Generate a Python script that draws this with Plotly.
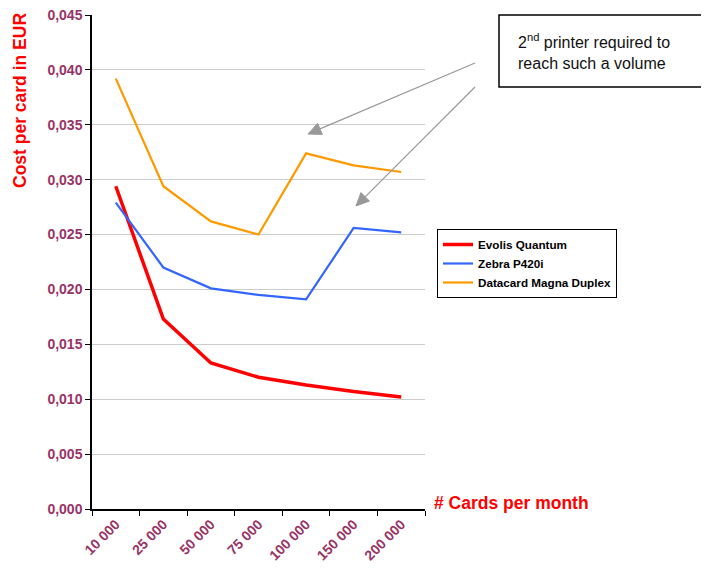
import math
import plotly.graph_objects as go

categories = ["10 000", "25 000", "50 000", "75 000", "100 000", "150 000", "200 000"]
evolis = [0.0294, 0.0173, 0.0133, 0.0120, 0.0113, 0.0107, 0.0102]
zebra = [0.0279, 0.0220, 0.0201, 0.0195, 0.0191, 0.0256, 0.0252]
datacard = [0.0392, 0.0294, 0.0262, 0.0250, 0.0324, 0.0313, 0.0307]
y_ticks = [0.000, 0.005, 0.010, 0.015, 0.020, 0.025, 0.030, 0.035, 0.040, 0.045]

FONT = "Liberation Sans, Arial, sans-serif"
PLUM = "#993366"

fig = go.Figure()
fig.add_trace(go.Scatter(x=categories, y=evolis, mode="lines", name="<b>Evolis Quantum</b>",
                         line=dict(color="#ff0000", width=3.5)))
fig.add_trace(go.Scatter(x=categories, y=zebra, mode="lines", name="<b>Zebra P420i</b>",
                         line=dict(color="#3366ff", width=2.2)))
fig.add_trace(go.Scatter(x=categories, y=datacard, mode="lines", name="<b>Datacard Magna Duplex</b>",
                         line=dict(color="#ff9900", width=2.2)))

# page body has an 8px margin, so the figure is drawn 8px in from the window edge
OFF = 8
W, H = 709 - OFF, 568 - OFF
PL, PR, PT, PB = 92, 425, 15, 509  # plot area in window pixels
L, R, T, B = PL - OFF, 709 - PR, PT - OFF, 568 - PB
pw = PR - PL
ph = PB - PT

def px(x):
    return (x - PL) / pw

def py(y):
    return (PB - y) / ph

fig.update_layout(
    width=W, height=H,
    margin=dict(l=L, r=R, t=T, b=B, autoexpand=False),
    paper_bgcolor="white", plot_bgcolor="white",
    separators=", ",
    font=dict(family=FONT),
    showlegend=True,
    legend=dict(x=px(437), y=py(229), xanchor="left", yanchor="top",
                bordercolor="#000000", borderwidth=1, bgcolor="white",
                font=dict(size=11.7, color="#000000", family=FONT),
                tracegroupgap=0, itemwidth=30),
    xaxis=dict(type="category", range=[-0.5, 6.5], showgrid=False, automargin=False,
               showline=True, linecolor="#000000", linewidth=1.5,
               ticks="outside", ticklen=5, tickcolor="#000000", tickson="boundaries",
               tickangle=-45, ticklabeloverflow="allow",
               tickfont=dict(size=14, color=PLUM, family=FONT, weight="bold")),
    yaxis=dict(range=[0, 0.045], tickvals=y_ticks, tickformat=".3f", automargin=False,
               showgrid=True, gridcolor="#cccccc", gridwidth=1,
               showline=True, linecolor="#000000", linewidth=1.5,
               ticks="outside", ticklen=5, tickcolor="#000000",
               zeroline=False, ticklabeloverflow="allow",
               tickfont=dict(size=14, color=PLUM, family=FONT, weight="bold")),
)

annotations = [
    dict(text="<b>Cost per card in EUR</b>", textangle=-90, xref="paper", yref="paper",
         x=px(20), y=py(101), xanchor="center", yanchor="middle", showarrow=False,
         font=dict(size=17.5, color="#ff0000", family=FONT)),
    dict(text="<b># Cards per month</b>", xref="paper", yref="paper",
         x=px(432), y=py(503), xanchor="left", yanchor="middle", showarrow=False,
         font=dict(size=17.5, color="#ff0000", family=FONT)),
    dict(text="2<sup>nd</sup> printer required to<br>reach such a volume", xref="paper", yref="paper",
         x=px(516), y=py(51), xanchor="left", yanchor="middle", showarrow=False, align="left",
         font=dict(size=16, color="#111111", family=FONT)),
]
fig.update_layout(annotations=annotations)

fig.add_shape(type="rect", xref="paper", yref="paper",
              x0=px(499), x1=px(707), y0=py(87), y1=py(15),
              line=dict(color="#000000", width=1.5), fillcolor="rgba(0,0,0,0)")

def add_arrow(tail, tip, head_len=13, half_w=6, color="#999999"):
    dx, dy = tip[0] - tail[0], tip[1] - tail[1]
    n = math.hypot(dx, dy)
    ux, uy = dx / n, dy / n
    bx, by = tip[0] - head_len * ux, tip[1] - head_len * uy
    nx, ny = uy, -ux
    fig.add_shape(type="line", xref="paper", yref="paper",
                  x0=px(tail[0]), y0=py(tail[1]), x1=px(bx), y1=py(by),
                  line=dict(color=color, width=1.2))
    pts = [(tip[0], tip[1]), (bx + half_w * nx, by + half_w * ny), (bx - half_w * nx, by - half_w * ny)]
    path = "M " + " L ".join(f"{px(a):.5f},{py(b):.5f}" for a, b in pts) + " Z"
    fig.add_shape(type="path", xref="paper", yref="paper", path=path,
                  fillcolor=color, line=dict(color=color, width=1))

add_arrow((475, 63), (308, 134))
add_arrow((475, 87), (356, 206))

fig.write_html("out.html")
